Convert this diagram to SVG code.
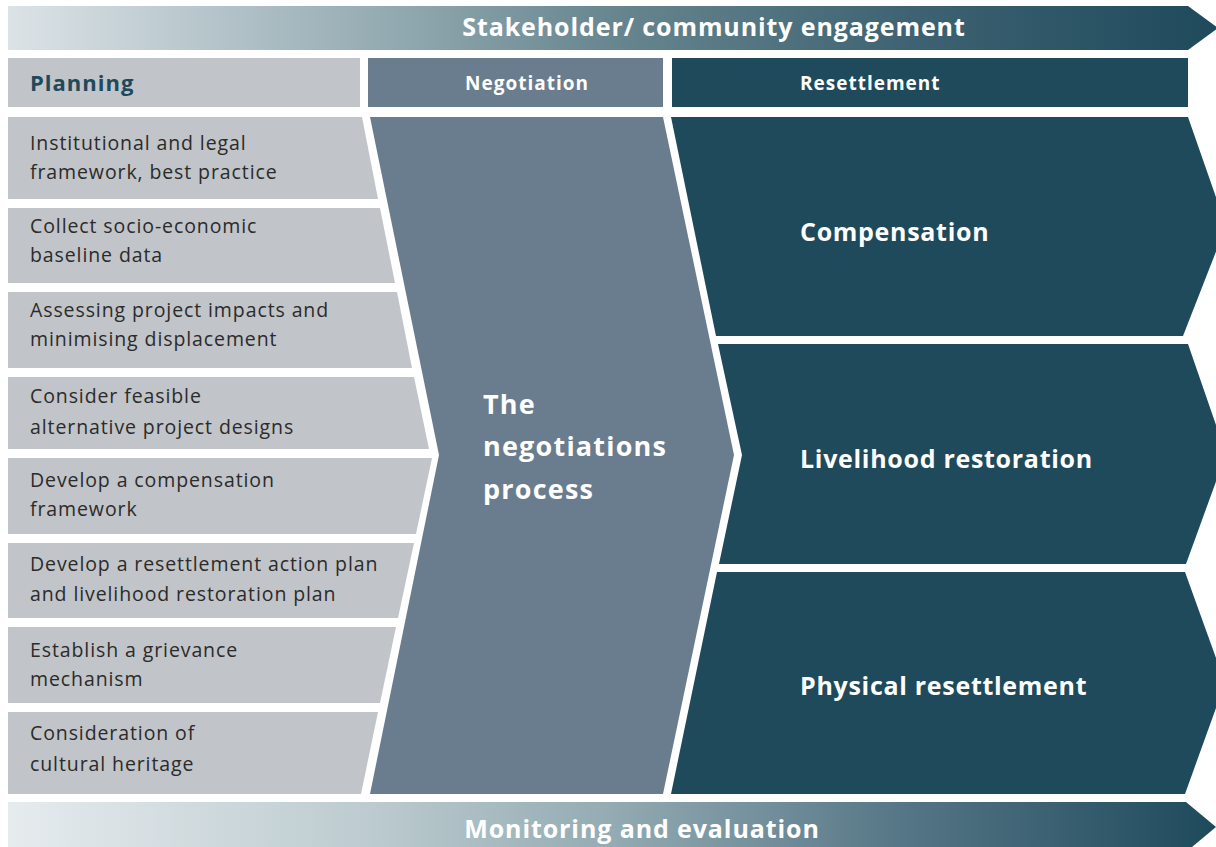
<svg xmlns="http://www.w3.org/2000/svg" width="1216" height="847" viewBox="0 0 1216 847">
<defs>
<linearGradient id="gTop" x1="8" y1="0" x2="1216" y2="0" gradientUnits="userSpaceOnUse">
<stop offset="0" stop-color="#dce3e7"/>
<stop offset="0.3" stop-color="#97adb4"/>
<stop offset="0.5" stop-color="#67868f"/>
<stop offset="0.75" stop-color="#3e6272"/>
<stop offset="1" stop-color="#1e4a5c"/>
</linearGradient>
<linearGradient id="gBot" x1="8" y1="0" x2="1216" y2="0" gradientUnits="userSpaceOnUse">
<stop offset="0" stop-color="#e6ebee"/>
<stop offset="0.3" stop-color="#bccbcf"/>
<stop offset="0.5" stop-color="#93abb2"/>
<stop offset="0.75" stop-color="#537484"/>
<stop offset="1" stop-color="#1e4a5c"/>
</linearGradient>
<style>
.plan{fill:#c1c4c8}
.neg{fill:#6a7d8e}
.res{fill:#1e4a5c}
.t{font-family:"Open Sans","Noto Sans","Liberation Sans",sans-serif;font-size:19.5px;letter-spacing:0.9px;fill:#2b2b2b}
.hb{font-family:"Open Sans","Noto Sans","Liberation Sans",sans-serif;font-weight:700;fill:#ffffff}
</style>
</defs>
<rect width="1216" height="847" fill="#ffffff"/>
<g id="banner-top">
<polygon points="8,6 1188,6 1218,28 1188,50 8,50" fill="url(#gTop)"/>
<text class="hb" x="714" y="36" font-size="25" letter-spacing="0.9" text-anchor="middle">Stakeholder/ community engagement</text>
</g>
<g id="header-planning">
<rect class="plan" x="8" y="58" width="352" height="49"/>
<text x="30" y="91" font-family="'Open Sans','Noto Sans','Liberation Sans',sans-serif" font-weight="700" font-size="22" letter-spacing="1" fill="#1e4a5c">Planning</text>
</g>
<g id="header-negotiation">
<rect class="neg" x="368" y="58" width="295" height="49"/>
<text class="hb" x="465" y="90" font-size="19" letter-spacing="1">Negotiation</text>
</g>
<g id="header-resettlement">
<rect class="res" x="672" y="58" width="516" height="49"/>
<text class="hb" x="800" y="90" font-size="19" letter-spacing="1">Resettlement</text>
</g>
<g id="plan-1">
<polygon class="plan" points="8,117 362,117 378,199 8,199"/>
<text class="t" x="30" y="150">Institutional and legal</text>
<text class="t" x="30" y="179">framework, best practice</text>
</g>
<g id="plan-2">
<polygon class="plan" points="8,208 380,208 395,283 8,283"/>
<text class="t" x="30" y="233">Collect socio-economic</text>
<text class="t" x="30" y="262">baseline data</text>
</g>
<g id="plan-3">
<polygon class="plan" points="8,292 397,292 412,368 8,368"/>
<text class="t" x="30" y="317">Assessing project impacts and</text>
<text class="t" x="30" y="346">minimising displacement</text>
</g>
<g id="plan-4">
<polygon class="plan" points="8,377 414,377 429,449 8,449"/>
<text class="t" x="30" y="403">Consider feasible</text>
<text class="t" x="30" y="434">alternative project designs</text>
</g>
<g id="plan-5">
<polygon class="plan" points="8,458 432,458 416,534 8,534"/>
<text class="t" x="30" y="487">Develop a compensation</text>
<text class="t" x="30" y="516">framework</text>
</g>
<g id="plan-6">
<polygon class="plan" points="8,543 414,543 398,618 8,618"/>
<text class="t" x="30" y="571">Develop a resettlement action plan</text>
<text class="t" x="30" y="601">and livelihood restoration plan</text>
</g>
<g id="plan-7">
<polygon class="plan" points="8,627 396,627 380,703 8,703"/>
<text class="t" x="30" y="657">Establish a grievance</text>
<text class="t" x="30" y="686">mechanism</text>
</g>
<g id="plan-8">
<polygon class="plan" points="8,712 378,712 361,794 8,794"/>
<text class="t" x="30" y="740">Consideration of</text>
<text class="t" x="30" y="771">cultural heritage</text>
</g>
<g id="negotiation-process">
<polygon class="neg" points="370,117 663,117 734,455 663,794 370,794 439,455"/>
<text class="hb" x="483" y="414" font-size="27" letter-spacing="1.2">The</text>
<text class="hb" x="483" y="456" font-size="27" letter-spacing="1.2">negotiations</text>
<text class="hb" x="483" y="499" font-size="27" letter-spacing="1.2">process</text>
</g>
<g id="compensation">
<polygon class="res" points="671,117 1188,117 1226,226 1183,336 716,336"/>
<text class="hb" x="800" y="241" font-size="25" letter-spacing="0.7">Compensation</text>
</g>
<g id="livelihood-restoration">
<polygon class="res" points="718,344 1188,344 1226,454 1186,564 719,564 742,455"/>
<text class="hb" x="800" y="468" font-size="25" letter-spacing="0.7">Livelihood restoration</text>
</g>
<g id="physical-resettlement">
<polygon class="res" points="717,572 1185,572 1225,683 1185,794 671,794"/>
<text class="hb" x="800" y="695" font-size="25" letter-spacing="0.7">Physical resettlement</text>
</g>
<g id="banner-bottom">
<polygon points="8,802 1186,802 1216,827 1186,852 8,852" fill="url(#gBot)"/>
<text class="hb" x="642" y="838" font-size="25" letter-spacing="0.9" text-anchor="middle">Monitoring and evaluation</text>
</g>
</svg>
